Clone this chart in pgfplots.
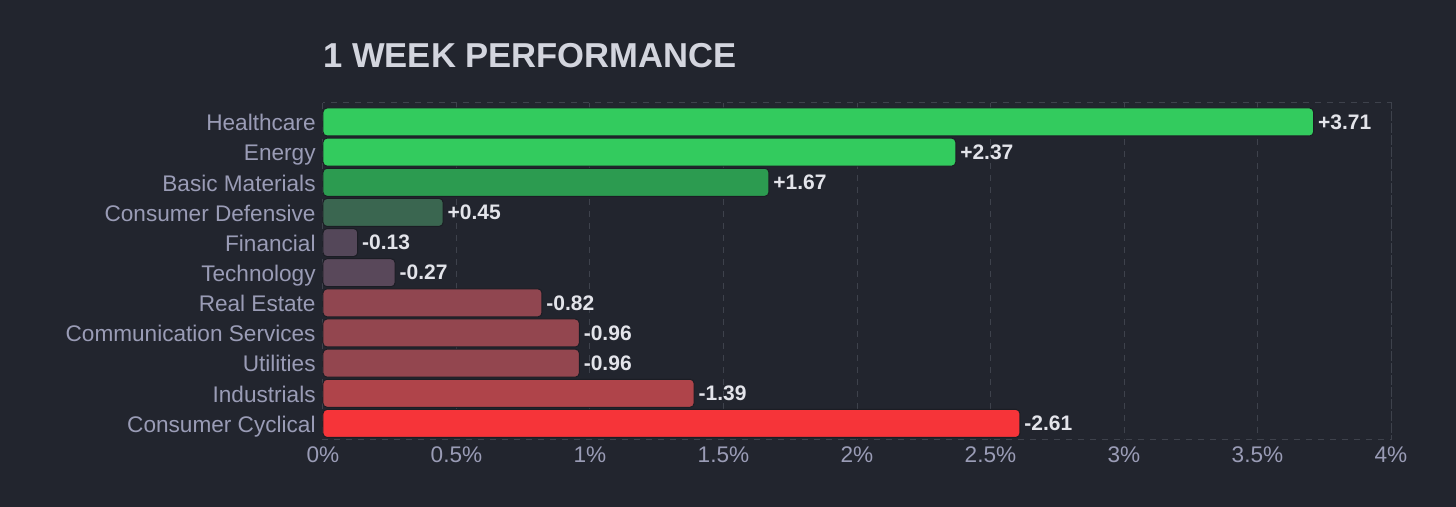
\documentclass[border=0pt]{standalone}
\usepackage{fontspec}
\setmainfont{Liberation Sans}
\usepackage{pgfplots}
\pgfplotsset{compat=1.18}

\definecolor{bg}{HTML}{22252E}
\definecolor{gridc}{HTML}{3E424C}
\definecolor{tickc}{HTML}{9A9CB6}
\definecolor{titlec}{HTML}{D3D5DE}
\definecolor{valc}{HTML}{E3E4EA}
\definecolor{edge}{HTML}{1B1D24}
\definecolor{cgreen}{HTML}{33CB5E}
\definecolor{cbasic}{HTML}{2C9B50}
\definecolor{cdef}{HTML}{3A6650}
\definecolor{cfin}{HTML}{544759}
\definecolor{ctech}{HTML}{59485A}
\definecolor{cre}{HTML}{904650}
\definecolor{ccomm}{HTML}{93464F}
\definecolor{cind}{HTML}{AF444A}
\definecolor{ccyc}{HTML}{F63439}

\begin{document}
\begin{tikzpicture}
\fill[bg] (-161.5pt,-33.5pt) rectangle (566.5pt,220pt);
\path[use as bounding box] (-161.5pt,-33.5pt) rectangle (566.5pt,220pt);
\begin{axis}[
  at={(0,0)}, anchor=south west,
  width=534pt, height=168.5pt, scale only axis,
  xbar, bar width=14pt, bar shift=0pt,
  xmin=0, xmax=4, ymin=-0.63, ymax=10.55, y dir=reverse,
  xtick={0,0.5,...,4},
  xticklabels={0\%,0.5\%,1\%,1.5\%,2\%,2.5\%,3\%,3.5\%,4\%},
  ytick={0,...,10},
  yticklabels={Healthcare,Energy,Basic Materials,Consumer Defensive,Financial,
    Technology,Real Estate,Communication Services,Utilities,Industrials,Consumer Cyclical},
  major tick length=0pt,
  xmajorgrids, grid style={dashed, gridc, line width=0.5pt},
  axis line style={dashed, gridc, line width=0.5pt},
  tick label style={font=\fontsize{11.3}{13}\selectfont, text=tickc},
  yticklabel style={text height=8.2pt, text depth=2.4pt, inner sep=3.5pt, yshift=-1.5pt},
  nodes near coords, point meta=explicit symbolic,
  nodes near coords align=horizontal,
  every node near coord/.append style={anchor=west, font=\bfseries\fontsize{10.5}{13}\selectfont,
    text=valc, inner sep=2pt},
  every axis plot/.append style={rounded corners=2pt, draw=edge, line width=0.5pt},
  clip=false,
]
\addplot[fill=cgreen] coordinates {(3.71,0) [+3.71]};
\addplot[fill=cgreen] coordinates {(2.37,1) [+2.37]};
\addplot[fill=cbasic] coordinates {(1.67,2) [+1.67]};
\addplot[fill=cdef] coordinates {(0.45,3) [+0.45]};
\addplot[fill=cfin] coordinates {(0.13,4) [-0.13]};
\addplot[fill=ctech] coordinates {(0.27,5) [-0.27]};
\addplot[fill=cre] coordinates {(0.82,6) [-0.82]};
\addplot[fill=ccomm] coordinates {(0.96,7) [-0.96]};
\addplot[fill=ccomm] coordinates {(0.96,8) [-0.96]};
\addplot[fill=cind] coordinates {(1.39,9) [-1.39]};
\addplot[fill=ccyc] coordinates {(2.61,10) [-2.61]};
\end{axis}
\node[anchor=base west, inner sep=0pt, text=titlec,
  font=\bfseries\fontsize{17.3}{20}\selectfont] at (0pt,186pt) {1 WEEK PERFORMANCE};
\end{tikzpicture}
\end{document}
